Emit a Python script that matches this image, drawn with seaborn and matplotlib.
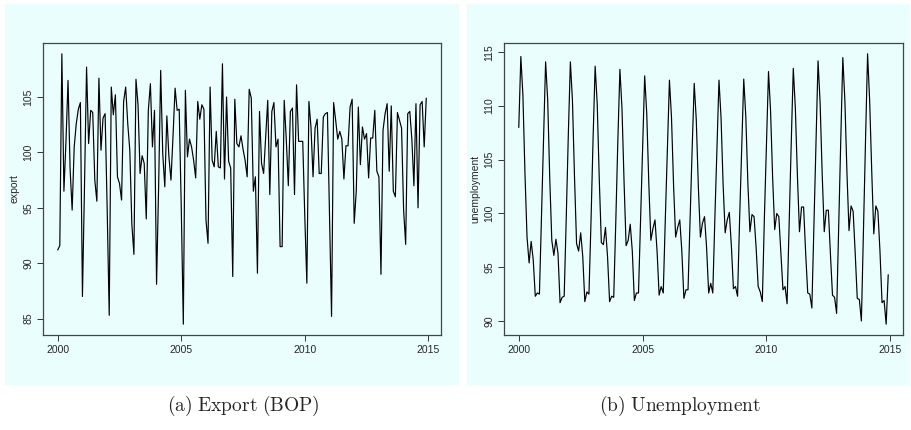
import numpy as np
import pandas as pd
import seaborn as sns
import matplotlib.pyplot as plt
from matplotlib.patches import Rectangle

sns.set_style("ticks")
plt.rcParams['font.family'] = ['Liberation Sans', 'DejaVu Sans']
plt.rcParams['mathtext.fontset'] = 'cm'

# monthly series, Jan 2000 - Dec 2014
export = [
    91.2, 91.6, 108.9, 96.5, 101.0, 106.5, 98.5, 94.8, 100.5, 102.6, 103.9, 104.5,
    87.0, 97.0, 107.7, 100.8, 103.8, 103.6, 97.5, 95.6, 106.7, 100.2, 103.1, 103.5,
    95.0, 85.3, 105.9, 103.4, 105.2, 97.8, 97.2, 95.7, 104.6, 105.9, 102.6, 100.2,
    93.5, 90.8, 106.6, 104.3, 98.1, 99.7, 99.0, 94.0, 103.8, 106.2, 100.5, 103.8,
    88.1, 96.9, 107.4, 99.9, 96.9, 103.3, 99.6, 97.5, 101.5, 105.8, 103.8, 103.9,
    95.0, 84.5, 105.6, 99.6, 101.2, 100.5, 99.3, 97.7, 104.6, 103.0, 104.3, 103.9,
    93.9, 91.8, 105.9, 99.3, 98.7, 101.9, 98.7, 98.6, 108.0, 97.6, 105.0, 99.2,
    98.6, 88.8, 104.8, 100.8, 100.5, 101.5, 100.3, 99.3, 97.8, 105.7, 104.9, 96.5,
    97.8, 89.1, 103.7, 99.0, 98.1, 101.4, 104.7, 96.2, 103.7, 104.5, 100.5, 101.2,
    91.5, 91.5, 104.7, 101.2, 97.0, 103.7, 104.0, 96.2, 106.1, 101.0, 101.0, 101.0,
    94.2, 88.2, 104.6, 102.3, 97.8, 102.2, 103.0, 98.1, 98.1, 103.2, 103.5, 103.6,
    94.5, 85.2, 104.5, 102.9, 101.2, 101.9, 101.2, 97.6, 100.6, 100.6, 104.1, 104.8,
    93.6, 96.5, 104.1, 98.9, 102.3, 101.2, 101.7, 97.7, 101.3, 101.3, 103.8, 98.3,
    97.8, 89.0, 102.0, 103.5, 104.4, 98.3, 104.2, 96.5, 96.0, 103.6, 102.9, 102.2,
    94.8, 91.7, 103.5, 103.7, 101.2, 97.0, 104.4, 95.0, 104.3, 104.6, 100.5, 104.9,
]

unemployment = [
    108.0, 114.6, 111.0, 103.7, 97.8, 95.4, 97.4, 95.7, 92.3, 92.6, 92.5, 99.8,
    107.3, 114.1, 110.6, 103.3, 97.5, 96.1, 97.6, 96.3, 91.7, 92.2, 92.3, 99.6,
    107.3, 114.1, 110.5, 103.4, 97.2, 96.5, 98.2, 96.0, 91.8, 92.7, 92.5, 99.3,
    107.0, 113.7, 110.2, 103.2, 97.3, 97.1, 98.7, 96.0, 91.8, 92.3, 92.2, 99.2,
    106.8, 113.4, 109.8, 103.0, 97.0, 97.5, 99.0, 96.5, 91.9, 92.6, 92.6, 99.3,
    106.0, 112.8, 109.3, 102.8, 97.5, 98.6, 99.4, 96.5, 92.4, 93.2, 92.6, 99.5,
    106.0, 112.4, 108.9, 102.6, 97.8, 98.7, 99.4, 96.5, 92.1, 92.9, 92.9, 99.5,
    106.0, 112.1, 108.7, 102.5, 97.8, 99.1, 99.7, 96.8, 92.6, 93.5, 92.6, 99.5,
    106.0, 112.4, 108.9, 102.7, 98.2, 99.4, 100.1, 97.0, 93.0, 93.2, 92.3, 99.5,
    106.0, 112.5, 109.0, 102.8, 98.3, 99.9, 99.7, 96.8, 93.2, 92.7, 91.8, 99.6,
    106.5, 113.2, 109.5, 103.3, 98.5, 100.0, 99.7, 96.3, 92.9, 93.2, 91.6, 99.2,
    106.5, 113.5, 109.8, 103.5, 98.3, 100.6, 100.6, 96.3, 92.6, 92.5, 91.2, 99.0,
    106.8, 114.2, 110.3, 103.7, 98.3, 100.3, 100.3, 96.2, 92.4, 92.2, 90.7, 98.8,
    106.8, 114.5, 110.5, 103.8, 98.4, 100.7, 100.2, 96.3, 92.1, 92.0, 90.0, 98.5,
    106.8, 114.85, 110.5, 104.0, 98.1, 100.7, 100.2, 96.5, 91.7, 91.9, 89.7, 94.3,
]

x_ticks = [2000, 2005, 2010, 2015]
export_ticks = [85, 90, 95, 100, 105]
unemp_ticks = [90, 95, 100, 105, 110, 115]
captions = [r"$\mathrm{(a)\ Export\ (BOP)}$", r"$\mathrm{(b)\ Unemployment}$"]

start_year = 2000
time = start_year + np.arange(len(export)) / 12
df = pd.DataFrame({"time": time, "export": export, "unemployment": unemployment})

bg = "#ebfefe"
W, H = 912, 430
fig = plt.figure(figsize=(W / 100, H / 100), dpi=100)

# cyan panels behind each plot
for x0, x1 in [(5, 458), (467, 909)]:
    fig.patches.append(Rectangle((x0 / W, 1 - 384 / H), (x1 - x0) / W, 380 / H,
                                 transform=fig.transFigure, color=bg, zorder=-10))

panels = [
    ("export", export_ticks, 43, 441, captions[0], 243),
    ("unemployment", unemp_ticks, 504, 903, captions[1], 680),
]
for col, yt, x0, x1, cap, cx in panels:
    ax = fig.add_axes([x0 / W, 1 - 335 / H, (x1 - x0) / W, 292 / H])
    ax.set_facecolor(bg)
    sns.lineplot(data=df, x="time", y=col, ax=ax, color="black", linewidth=0.85)
    ax.margins(x=0.04, y=0.04)
    ax.set_xticks(x_ticks)
    ax.set_yticks(yt)
    ax.set_xlabel("")
    ax.set_ylabel(col, fontsize=7.5, labelpad=3)
    ax.tick_params(axis="both", labelsize=7.5, length=4, width=0.7,
                   color="#333333", direction="out", pad=3)
    for lab in ax.get_yticklabels():
        lab.set_rotation(90)
        lab.set_va("center")
    for s in ax.spines.values():
        s.set_visible(True)
        s.set_color("#444444")
        s.set_linewidth(0.9)
    fig.text(cx / W, 1 - 406 / H, cap, ha="center", va="center", fontsize=14)

fig.savefig("out.png", dpi=100, facecolor="white")
